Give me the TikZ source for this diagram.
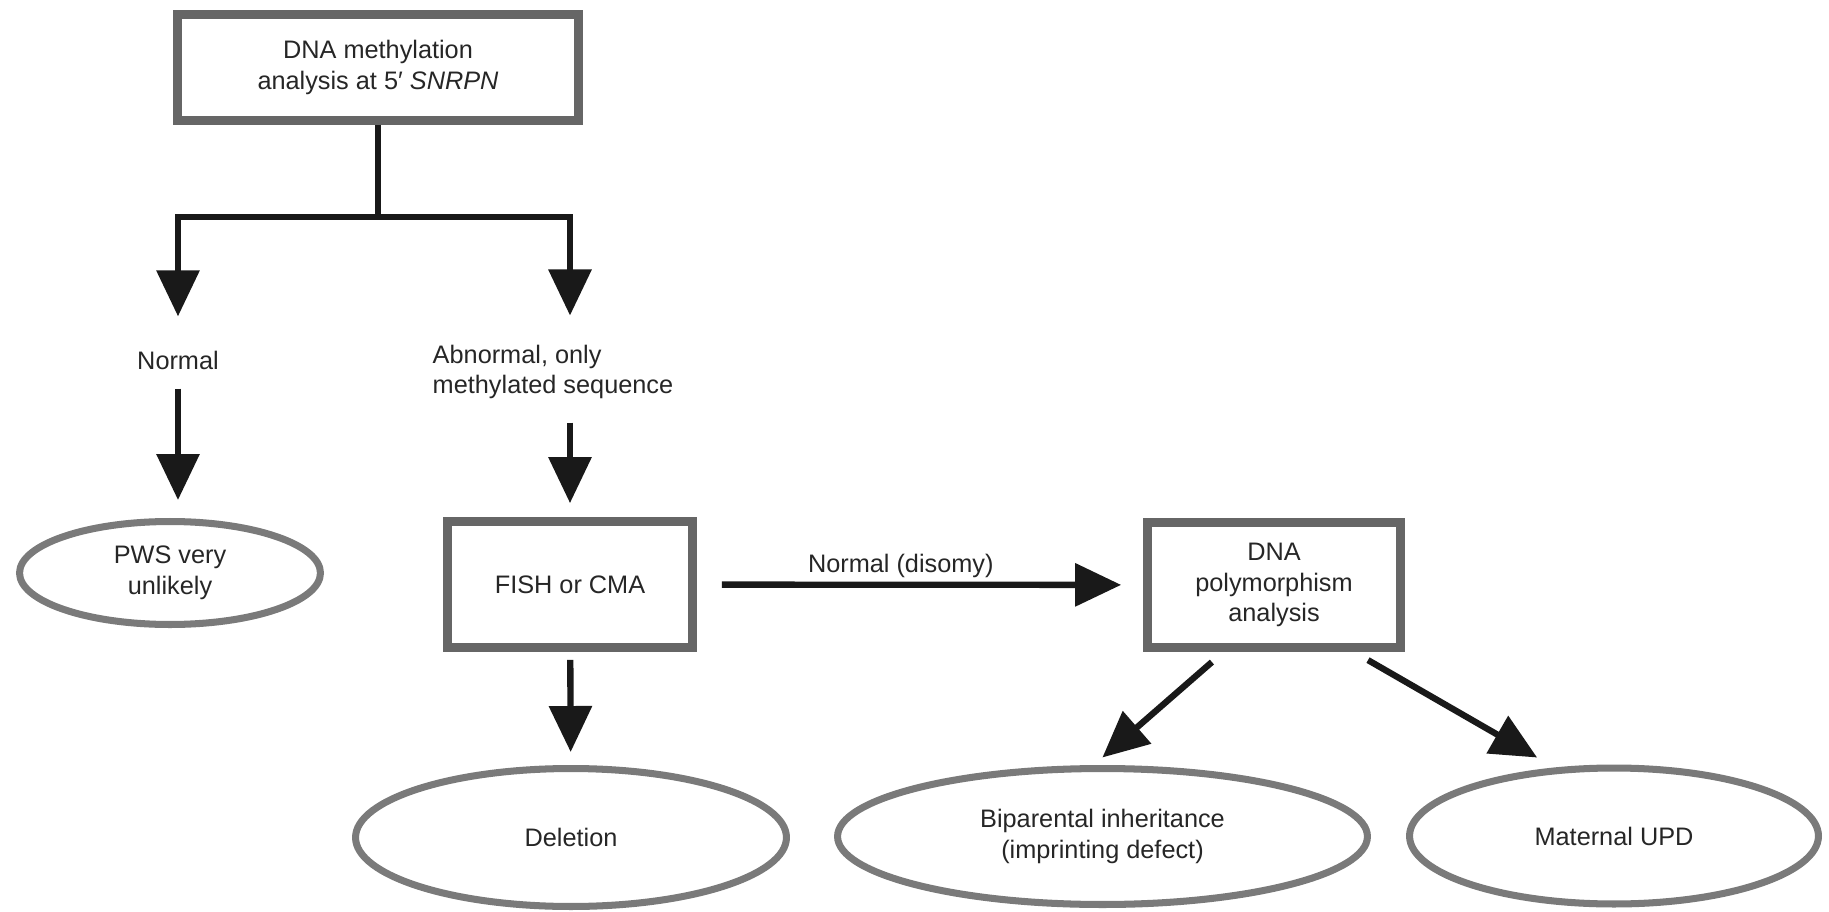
\documentclass[tikz,border=0pt]{standalone}
\usepackage{fontspec}
\setmainfont{Liberation Sans}
\usetikzlibrary{arrows.meta, shapes.geometric}

\begin{document}
\begin{tikzpicture}[x=0.02cm, y=-0.02cm,
        >={Triangle[width=0.84cm, length=0.92cm]},
        every node/.style={font=\fontsize{14.4}{17.5}\selectfont, text=black!85},
        boxnode/.style={draw=black!60, line width=5pt, align=center},
        ovalnode/.style={ellipse, draw=black!52, line width=4pt, align=center, inner sep=0pt},
        textnode/.style={inner sep=0pt},
        flow/.style={line width=3.6pt, draw=black!90}]
        \useasboundingbox (0,0) rectangle (1829,912);

        \node[boxnode, minimum width=8.02cm, minimum height=2.12cm] (meth) at (378,67.5) {DNA methylation\\analysis at 5′ \textit{SNRPN}};
        \node[textnode] (normal) at (178,360) {Normal};
        \node[textnode, align=left] (abnormal) at (553,372) {Abnormal, only\\methylated sequence};
        \node[ovalnode, minimum width=6.02cm, minimum height=2.06cm] (pws) at (170,573) {PWS very\\unlikely};
        \node[boxnode, minimum width=4.9cm, minimum height=2.52cm] (fish) at (570,584.5) {FISH or CMA};
        \node[boxnode, minimum width=5.06cm, minimum height=2.5cm] (poly) at (1274,585) {DNA\\polymorphism\\analysis};
        \node[ovalnode, minimum width=8.62cm, minimum height=2.76cm] (deletion) at (571,837.5) {Deletion};
        \node[ovalnode, minimum width=10.6cm, minimum height=2.72cm] (bipar) at (1102.5,836.5) {Biparental inheritance\\(imprinting defect)};
        \node[ovalnode, minimum width=8.18cm, minimum height=2.72cm] (upd) at (1614,836) {Maternal UPD};

        \coordinate (split) at (378,217);

        % methylation result
        \draw[flow] (meth.south) -- (split);
        \draw[flow, ->, shorten >=0.68cm] (split) -| (normal);
        \draw[flow, ->, shorten >=0.58cm] (split) -| (fish |- abnormal.north);
        \draw[flow, ->, shorten <=0.38cm, shorten >=0.36cm] (normal) -- (normal |- pws.north);
        \draw[flow, ->, shorten <=0.46cm, shorten >=0.28cm] (fish |- abnormal.south) -- (fish.north);

        % FISH / CMA result
        \draw[flow, ->, shorten <=0.16cm, shorten >=0.26cm] (fish) -- (deletion);
        \draw[flow, ->, shorten <=0.5cm, shorten >=0.44cm] (fish) -- (poly) node [pos=0.457, above, inner sep=2pt] {Normal (disomy)};
        \draw[flow, ->, shorten <=0.31cm, shorten >=0.23cm] (poly.233) -- (bipar.97);
        \draw[flow, ->, shorten <=0.33cm, shorten >=0.4cm] (poly.320) -- (upd.131);
    \end{tikzpicture}
\end{document}
